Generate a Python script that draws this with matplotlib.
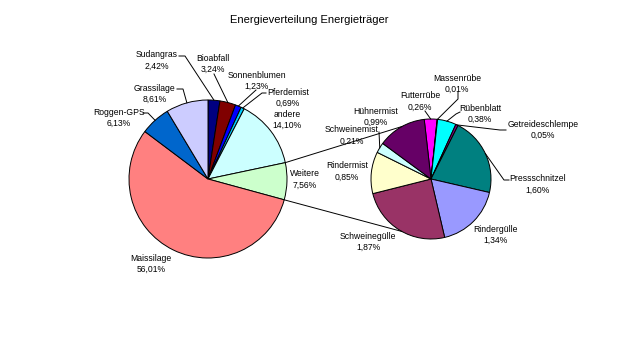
import numpy as np
import matplotlib
matplotlib.use('Agg')
import matplotlib.pyplot as plt

W, H = 619, 346

# main pie (clockwise from 12 o'clock)
main_names = ['Sudangras', 'Bioabfall', 'Sonnenblumen', 'Pferdemist', 'andere',
              'Weitere', 'Maissilage', 'Roggen-GPS', 'Grassilage']
main_values = [2.42, 3.24, 1.23, 0.69, 14.10, 7.56, 56.01, 6.13, 8.61]
main_colors = ['#000080', '#800000', '#0000FF', '#00CCFF', '#CCFFFF',
               '#CCFFCC', '#FF8080', '#0066CC', '#CCCCFF']

# secondary pie ("Weitere" split up)
sub_names = ['Futterrübe', 'Massenrübe', 'Rübenblatt', 'Getreideschlempe',
             'Pressschnitzel', 'Rindergülle', 'Schweinegülle', 'Rindermist',
             'Schweinemist', 'Hühnermist']
sub_values = [0.26, 0.01, 0.38, 0.05, 1.60, 1.34, 1.87, 0.85, 0.21, 0.99]
sub_colors = ['#FF00FF', '#FFFF00', '#00FFFF', '#800080', '#008080',
              '#9999FF', '#993366', '#FFFFCC', '#CCFFFF', '#660066']

# layout in pixel coords (y measured downwards)
MAIN_C, MAIN_R = (208, 179), 79
SUB_C, SUB_R = (431, 179), 60
SUB_START = 96.5
CONNECT_ANG = (119, 241)

# label position, leader anchor points (None = no leader)
main_labels = {
    'Sudangras': ((157, 60.5), [(179, 56), (185, 56)]),
    'Bioabfall': ((213, 64), [(214, 74)]),
    'Sonnenblumen': ((257, 81), [(256, 90)]),
    'Pferdemist': ((288, 98), [(266, 93), (262, 93)]),
    'andere': ((287, 120), None),
    'Weitere': ((305, 179.5), None),
    'Maissilage': ((151, 264), None),
    'Roggen-GPS': ((119, 118), [(143, 113), (148, 113)]),
    'Grassilage': ((155, 94), [(177, 89), (183, 89)]),
}
sub_labels = {
    'Futterrübe': ((420, 101.5), [(425, 111)]),
    'Massenrübe': ((457, 84), [(458, 92), (458, 99)]),
    'Rübenblatt': ((480, 114), [(460, 112), (456, 114)]),
    'Getreideschlempe': ((543, 130), [(506, 130), (500, 130)]),
    'Pressschnitzel': ((538, 184.5), [(509, 180), (504, 180)]),
    'Rindergülle': ((496, 235), None),
    'Schweinegülle': ((368, 242), None),
    'Rindermist': ((347, 171.5), None),
    'Schweinemist': ((352, 135.5), [(379, 132)]),
    'Hühnermist': ((376, 117), None),
}

FONT = 'Liberation Sans'


def Y(y):
    return H - y


def pct(v):
    return f'{v:.2f}'.replace('.', ',') + '%'


def draw_pie(ax, values, colors, center, radius, start):
    wedges, _ = ax.pie(values, colors=colors, startangle=start, counterclock=False,
                       center=(center[0], Y(center[1])), radius=radius,
                       wedgeprops=dict(edgecolor='black', linewidth=0.7))
    return wedges


def edge_point(wedge, center, radius):
    mid = np.deg2rad((wedge.theta1 + wedge.theta2) / 2)
    return center[0] + radius * np.cos(mid), Y(center[1]) + radius * np.sin(mid)


def put_labels(ax, names, values, wedges, labels, center, radius):
    for name, val, w in zip(names, values, wedges):
        (tx, ty), leader = labels[name]
        ax.text(tx, Y(ty), f'{name}\n{pct(val)}', ha='center', va='center',
                fontsize=6.2, family=FONT, linespacing=1.35)
        if leader:
            ex, ey = edge_point(w, center, radius)
            xs = [p[0] for p in leader] + [ex]
            ys = [Y(p[1]) for p in leader] + [ey]
            ax.plot(xs, ys, color='black', lw=0.7)


fig = plt.figure(figsize=(W / 100, H / 100), dpi=100)
ax = fig.add_axes([0, 0, 1, 1])

mw = draw_pie(ax, main_values, main_colors, MAIN_C, MAIN_R, 90)
sw = draw_pie(ax, sub_values, sub_colors, SUB_C, SUB_R, SUB_START)

put_labels(ax, main_names, main_values, mw, main_labels, MAIN_C, MAIN_R)
put_labels(ax, sub_names, sub_values, sw, sub_labels, SUB_C, SUB_R)

# connector lines from the "Weitere" wedge to the secondary pie
wt = mw[main_names.index('Weitere')]
for a_main, a_sub in zip((wt.theta2, wt.theta1), CONNECT_ANG):
    p0 = (MAIN_C[0] + MAIN_R * np.cos(np.deg2rad(a_main)),
          Y(MAIN_C[1]) + MAIN_R * np.sin(np.deg2rad(a_main)))
    p1 = (SUB_C[0] + SUB_R * np.cos(np.deg2rad(a_sub)),
          Y(SUB_C[1]) + SUB_R * np.sin(np.deg2rad(a_sub)))
    ax.plot([p0[0], p1[0]], [p0[1], p1[1]], color='black', lw=0.7)

ax.text(309, Y(20), 'Energieverteilung Energieträger', ha='center', va='center',
        fontsize=8, family=FONT)

ax.set_xlim(0, W)
ax.set_ylim(0, H)
ax.set_aspect('equal')
ax.axis('off')

fig.savefig('out.png', dpi=100, facecolor='white')
